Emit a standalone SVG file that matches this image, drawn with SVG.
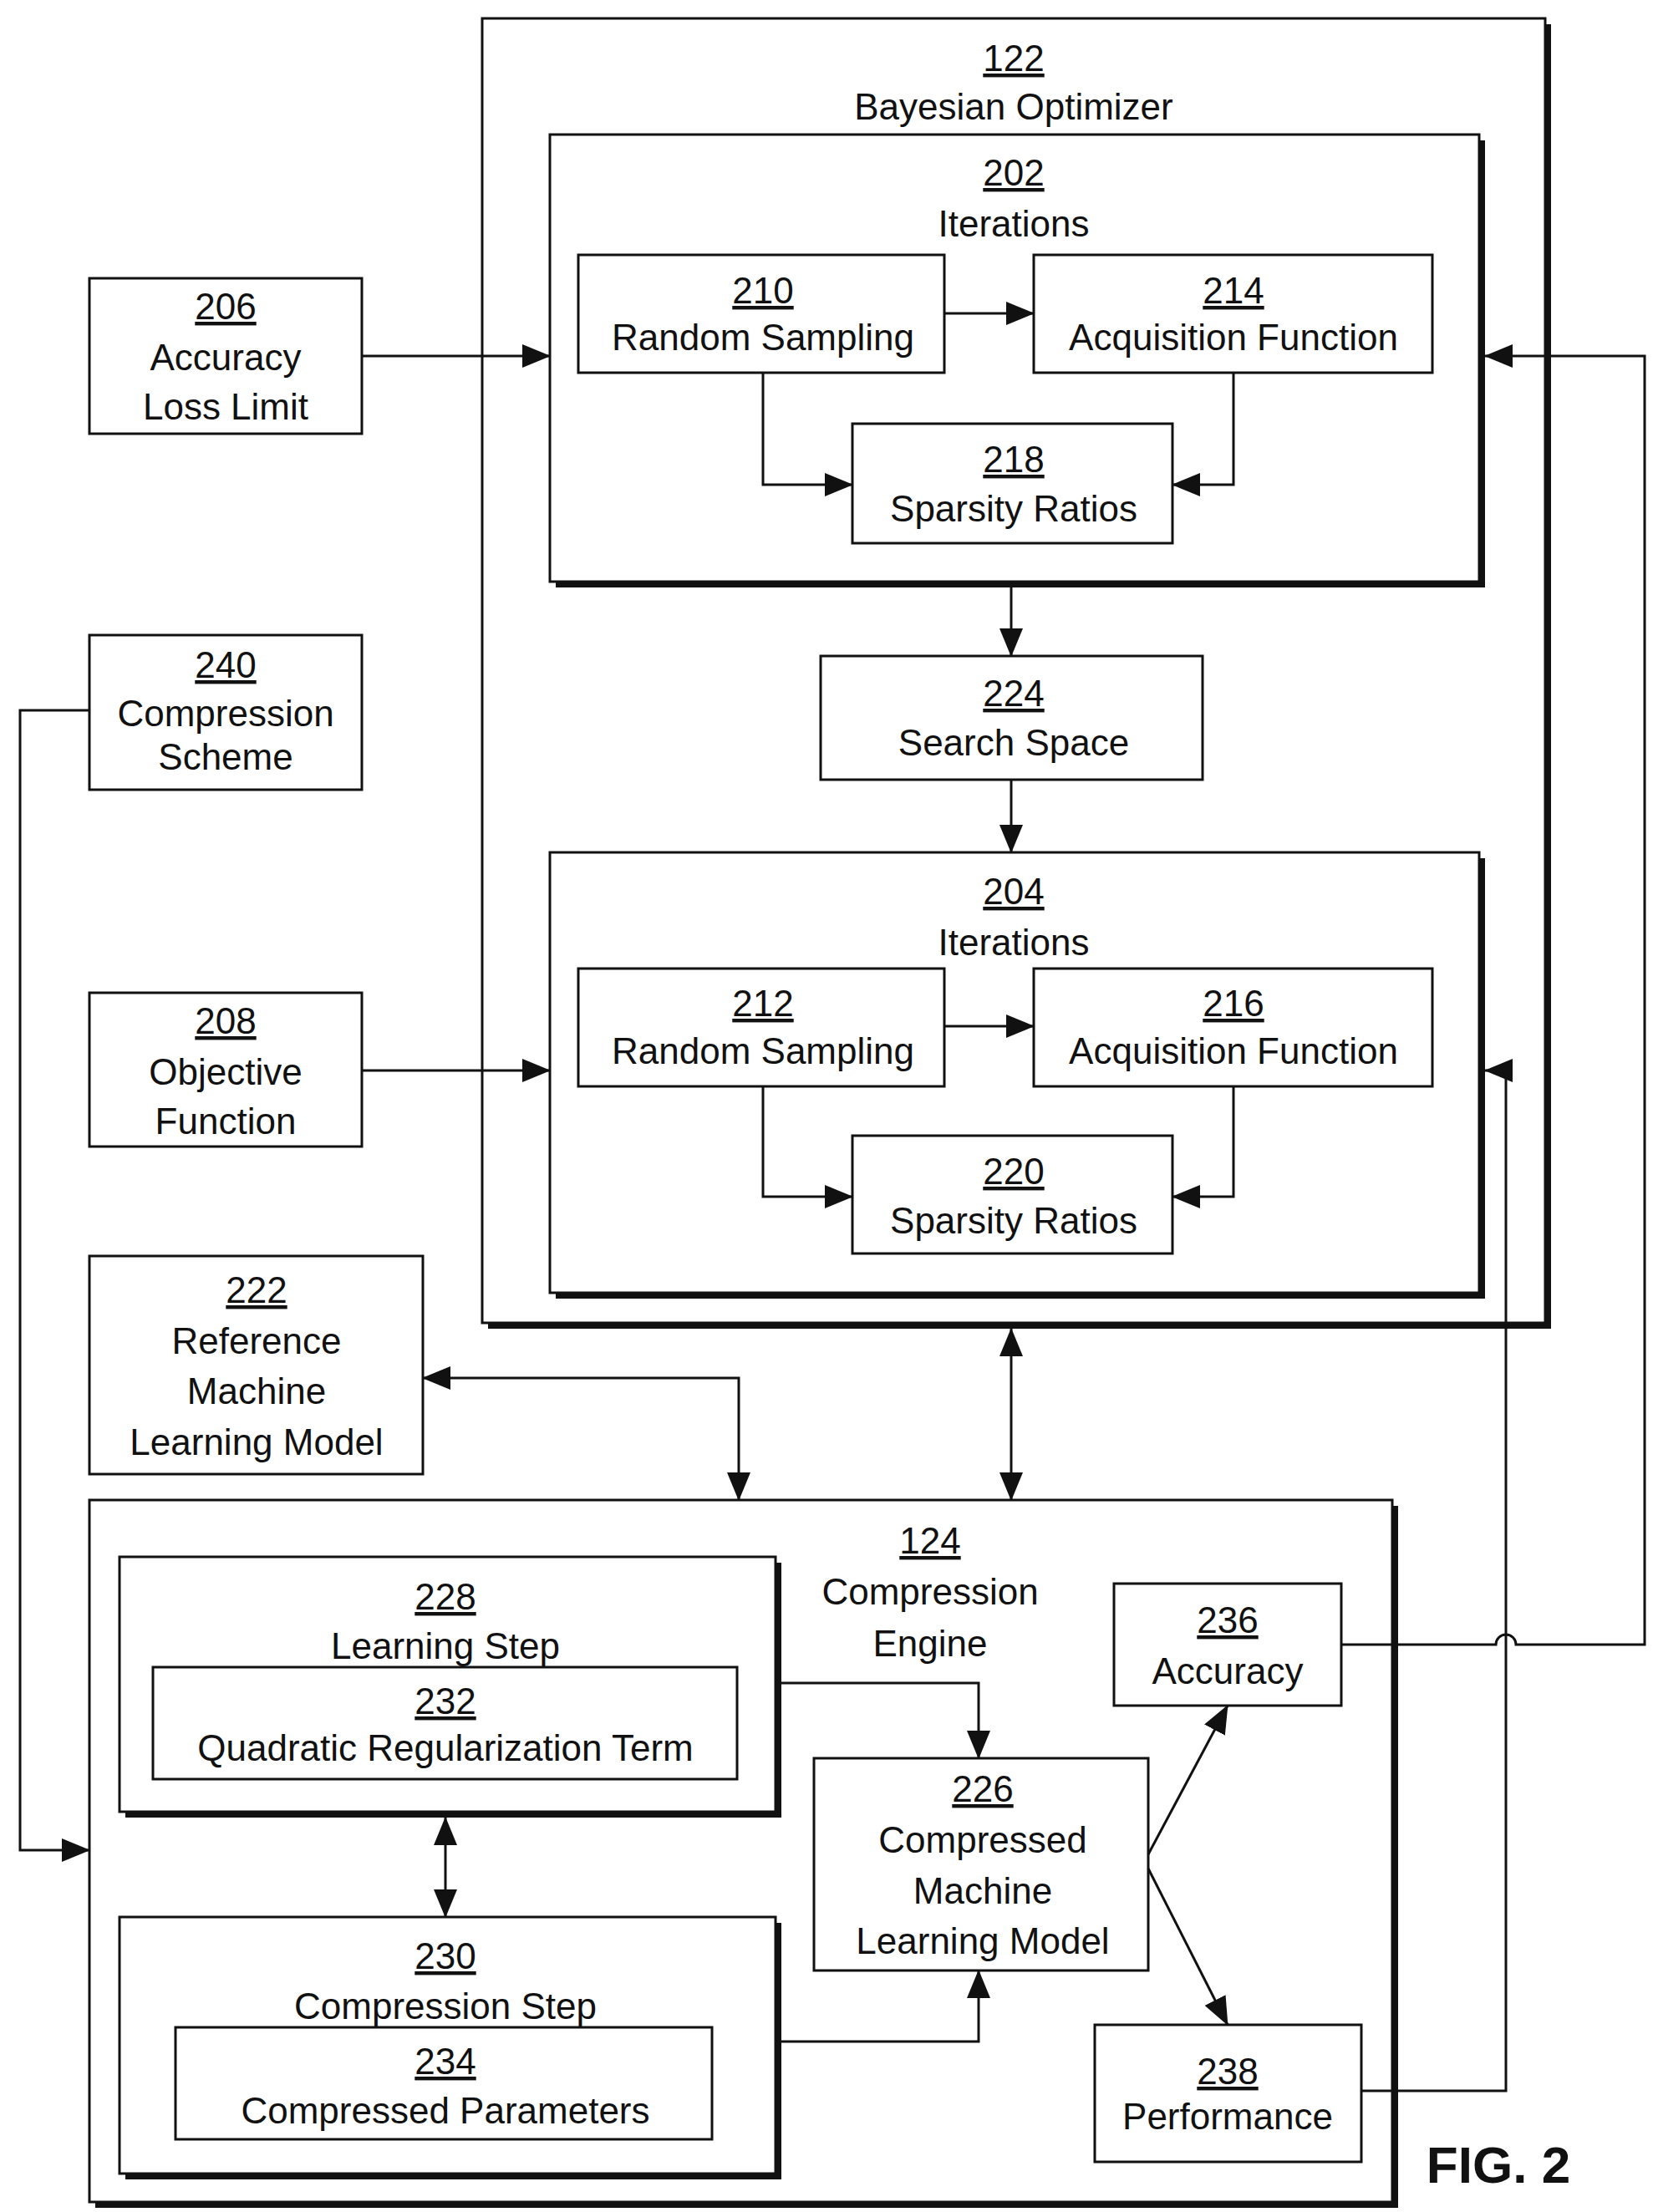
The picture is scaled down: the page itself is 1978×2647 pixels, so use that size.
<svg xmlns="http://www.w3.org/2000/svg" width="1978" height="2647" viewBox="0 0 1978 2647">
<style>
text{font-family:"Liberation Sans",Arial,sans-serif;font-size:44px;fill:#111;text-anchor:middle}
.n{text-decoration:underline}
.b{fill:#fff;stroke:#111;stroke-width:3}
.s{fill:#111}
.c{fill:none;stroke:#111;stroke-width:3}
</style>
<defs>
<marker id="a" markerWidth="12" markerHeight="10" refX="11" refY="5" orient="auto-start-reverse" markerUnits="userSpaceOnUse" viewBox="0 0 12 10"><path d="M0,0L12,5L0,10z" fill="#111"/></marker>
<marker id="A" markerWidth="34" markerHeight="28" refX="33" refY="14" orient="auto-start-reverse" markerUnits="userSpaceOnUse" viewBox="0 0 34 28"><path d="M0,0L34,14L0,28z" fill="#111"/></marker>
</defs>
<g id="n122"><rect class="s" x="584" y="29" width="1272" height="1561"/><rect class="b" x="577" y="22" width="1272" height="1561"/><text x="1213" y="85" class="n">122</text><text x="1213" y="143">Bayesian Optimizer</text></g>
<g id="n202"><rect class="s" x="665" y="168" width="1112" height="535"/><rect class="b" x="658" y="161" width="1112" height="535"/><text x="1213" y="222" class="n">202</text><text x="1213" y="283">Iterations</text></g>
<g id="n210"><rect class="b" x="692" y="305" width="438" height="141"/><text x="913" y="363" class="n">210</text><text x="913" y="419">Random Sampling</text></g>
<g id="n214"><rect class="b" x="1237" y="305" width="477" height="141"/><text x="1476" y="363" class="n">214</text><text x="1476" y="419">Acquisition Function</text></g>
<g id="n218"><rect class="b" x="1020" y="507" width="383" height="143"/><text x="1213" y="565" class="n">218</text><text x="1213" y="624">Sparsity Ratios</text></g>
<g id="n224"><rect class="b" x="982" y="785" width="457" height="148"/><text x="1213" y="845" class="n">224</text><text x="1213" y="904">Search Space</text></g>
<g id="n204"><rect class="s" x="665" y="1027" width="1112" height="527"/><rect class="b" x="658" y="1020" width="1112" height="527"/><text x="1213" y="1082" class="n">204</text><text x="1213" y="1143">Iterations</text></g>
<g id="n212"><rect class="b" x="692" y="1159" width="438" height="141"/><text x="913" y="1216" class="n">212</text><text x="913" y="1273">Random Sampling</text></g>
<g id="n216"><rect class="b" x="1237" y="1159" width="477" height="141"/><text x="1476" y="1216" class="n">216</text><text x="1476" y="1273">Acquisition Function</text></g>
<g id="n220"><rect class="b" x="1020" y="1359" width="383" height="141"/><text x="1213" y="1417" class="n">220</text><text x="1213" y="1476">Sparsity Ratios</text></g>
<g id="n206"><rect class="b" x="107" y="333" width="326" height="186"/><text x="270" y="382" class="n">206</text><text x="270" y="443">Accuracy</text><text x="270" y="502">Loss Limit</text></g>
<g id="n240"><rect class="b" x="107" y="760" width="326" height="185"/><text x="270" y="811" class="n">240</text><text x="270" y="869">Compression</text><text x="270" y="921">Scheme</text></g>
<g id="n208"><rect class="b" x="107" y="1188" width="326" height="184"/><text x="270" y="1237" class="n">208</text><text x="270" y="1298">Objective</text><text x="270" y="1357">Function</text></g>
<g id="n222"><rect class="b" x="107" y="1503" width="399" height="261"/><text x="307" y="1559" class="n">222</text><text x="307" y="1620">Reference</text><text x="307" y="1680">Machine</text><text x="307" y="1741">Learning Model</text></g>
<g id="n124"><rect class="s" x="114" y="1802" width="1559" height="840"/><rect class="b" x="107" y="1795" width="1559" height="840"/><text x="1113" y="1859" class="n">124</text><text x="1113" y="1920">Compression</text><text x="1113" y="1982">Engine</text></g>
<g id="n228"><rect class="s" x="150" y="1870" width="785" height="305"/><rect class="b" x="143" y="1863" width="785" height="305"/><text x="533" y="1926" class="n">228</text><text x="533" y="1985">Learning Step</text></g>
<g id="n232"><rect class="b" x="183" y="1995" width="699" height="134"/><text x="533" y="2051" class="n">232</text><text x="533" y="2107">Quadratic Regularization Term</text></g>
<g id="n230"><rect class="s" x="150" y="2301" width="785" height="307"/><rect class="b" x="143" y="2294" width="785" height="307"/><text x="533" y="2356" class="n">230</text><text x="533" y="2416">Compression Step</text></g>
<g id="n234"><rect class="b" x="210" y="2426" width="642" height="134"/><text x="533" y="2482" class="n">234</text><text x="533" y="2541">Compressed Parameters</text></g>
<g id="n226"><rect class="b" x="974" y="2104" width="400" height="254"/><text x="1176" y="2156" class="n">226</text><text x="1176" y="2217">Compressed</text><text x="1176" y="2278">Machine</text><text x="1176" y="2338">Learning Model</text></g>
<g id="n236"><rect class="b" x="1333" y="1895" width="272" height="146"/><text x="1469" y="1954" class="n">236</text><text x="1469" y="2015">Accuracy</text></g>
<g id="n238"><rect class="b" x="1310" y="2423" width="319" height="164"/><text x="1469" y="2494" class="n">238</text><text x="1469" y="2548">Performance</text></g>
<text x="1793" y="2612" style="font-weight:bold;font-size:62px">FIG. 2</text>
<g id="connectors" class="c">
<path d="M433,426H658" marker-end="url(#A)"/>
<path d="M433,1281H658" marker-end="url(#A)"/>
<path d="M1130,375H1237" marker-end="url(#A)"/>
<path d="M1130,1228H1237" marker-end="url(#A)"/>
<path d="M913,446V580H1020" marker-end="url(#A)"/>
<path d="M1476,446V580H1403" marker-end="url(#A)"/>
<path d="M913,1300V1432H1020" marker-end="url(#A)"/>
<path d="M1476,1300V1432H1403" marker-end="url(#A)"/>
<path d="M1210,703V785" marker-end="url(#A)"/>
<path d="M1210,933V1020" marker-end="url(#A)"/>
<path d="M107,850H24V2214H107" marker-end="url(#A)"/>
<path d="M506,1649H884V1795" marker-start="url(#A)" marker-end="url(#A)"/>
<path d="M1210,1590V1795" marker-start="url(#A)" marker-end="url(#A)"/>
<path d="M533,2175V2294" marker-start="url(#A)" marker-end="url(#A)"/>
<path d="M935,2014H1171V2104" marker-end="url(#A)"/>
<path d="M935,2443H1171V2358" marker-end="url(#A)"/>
<path d="M1374,2219L1469,2041" marker-end="url(#A)"/>
<path d="M1374,2236L1469,2423" marker-end="url(#A)"/>
<path d="M1605,1968H1790A12,12 0 0 1 1814,1968H1968V426H1777" marker-end="url(#A)"/>
<path d="M1629,2502H1802V1281H1777" marker-end="url(#A)"/>
</g>
</svg>
